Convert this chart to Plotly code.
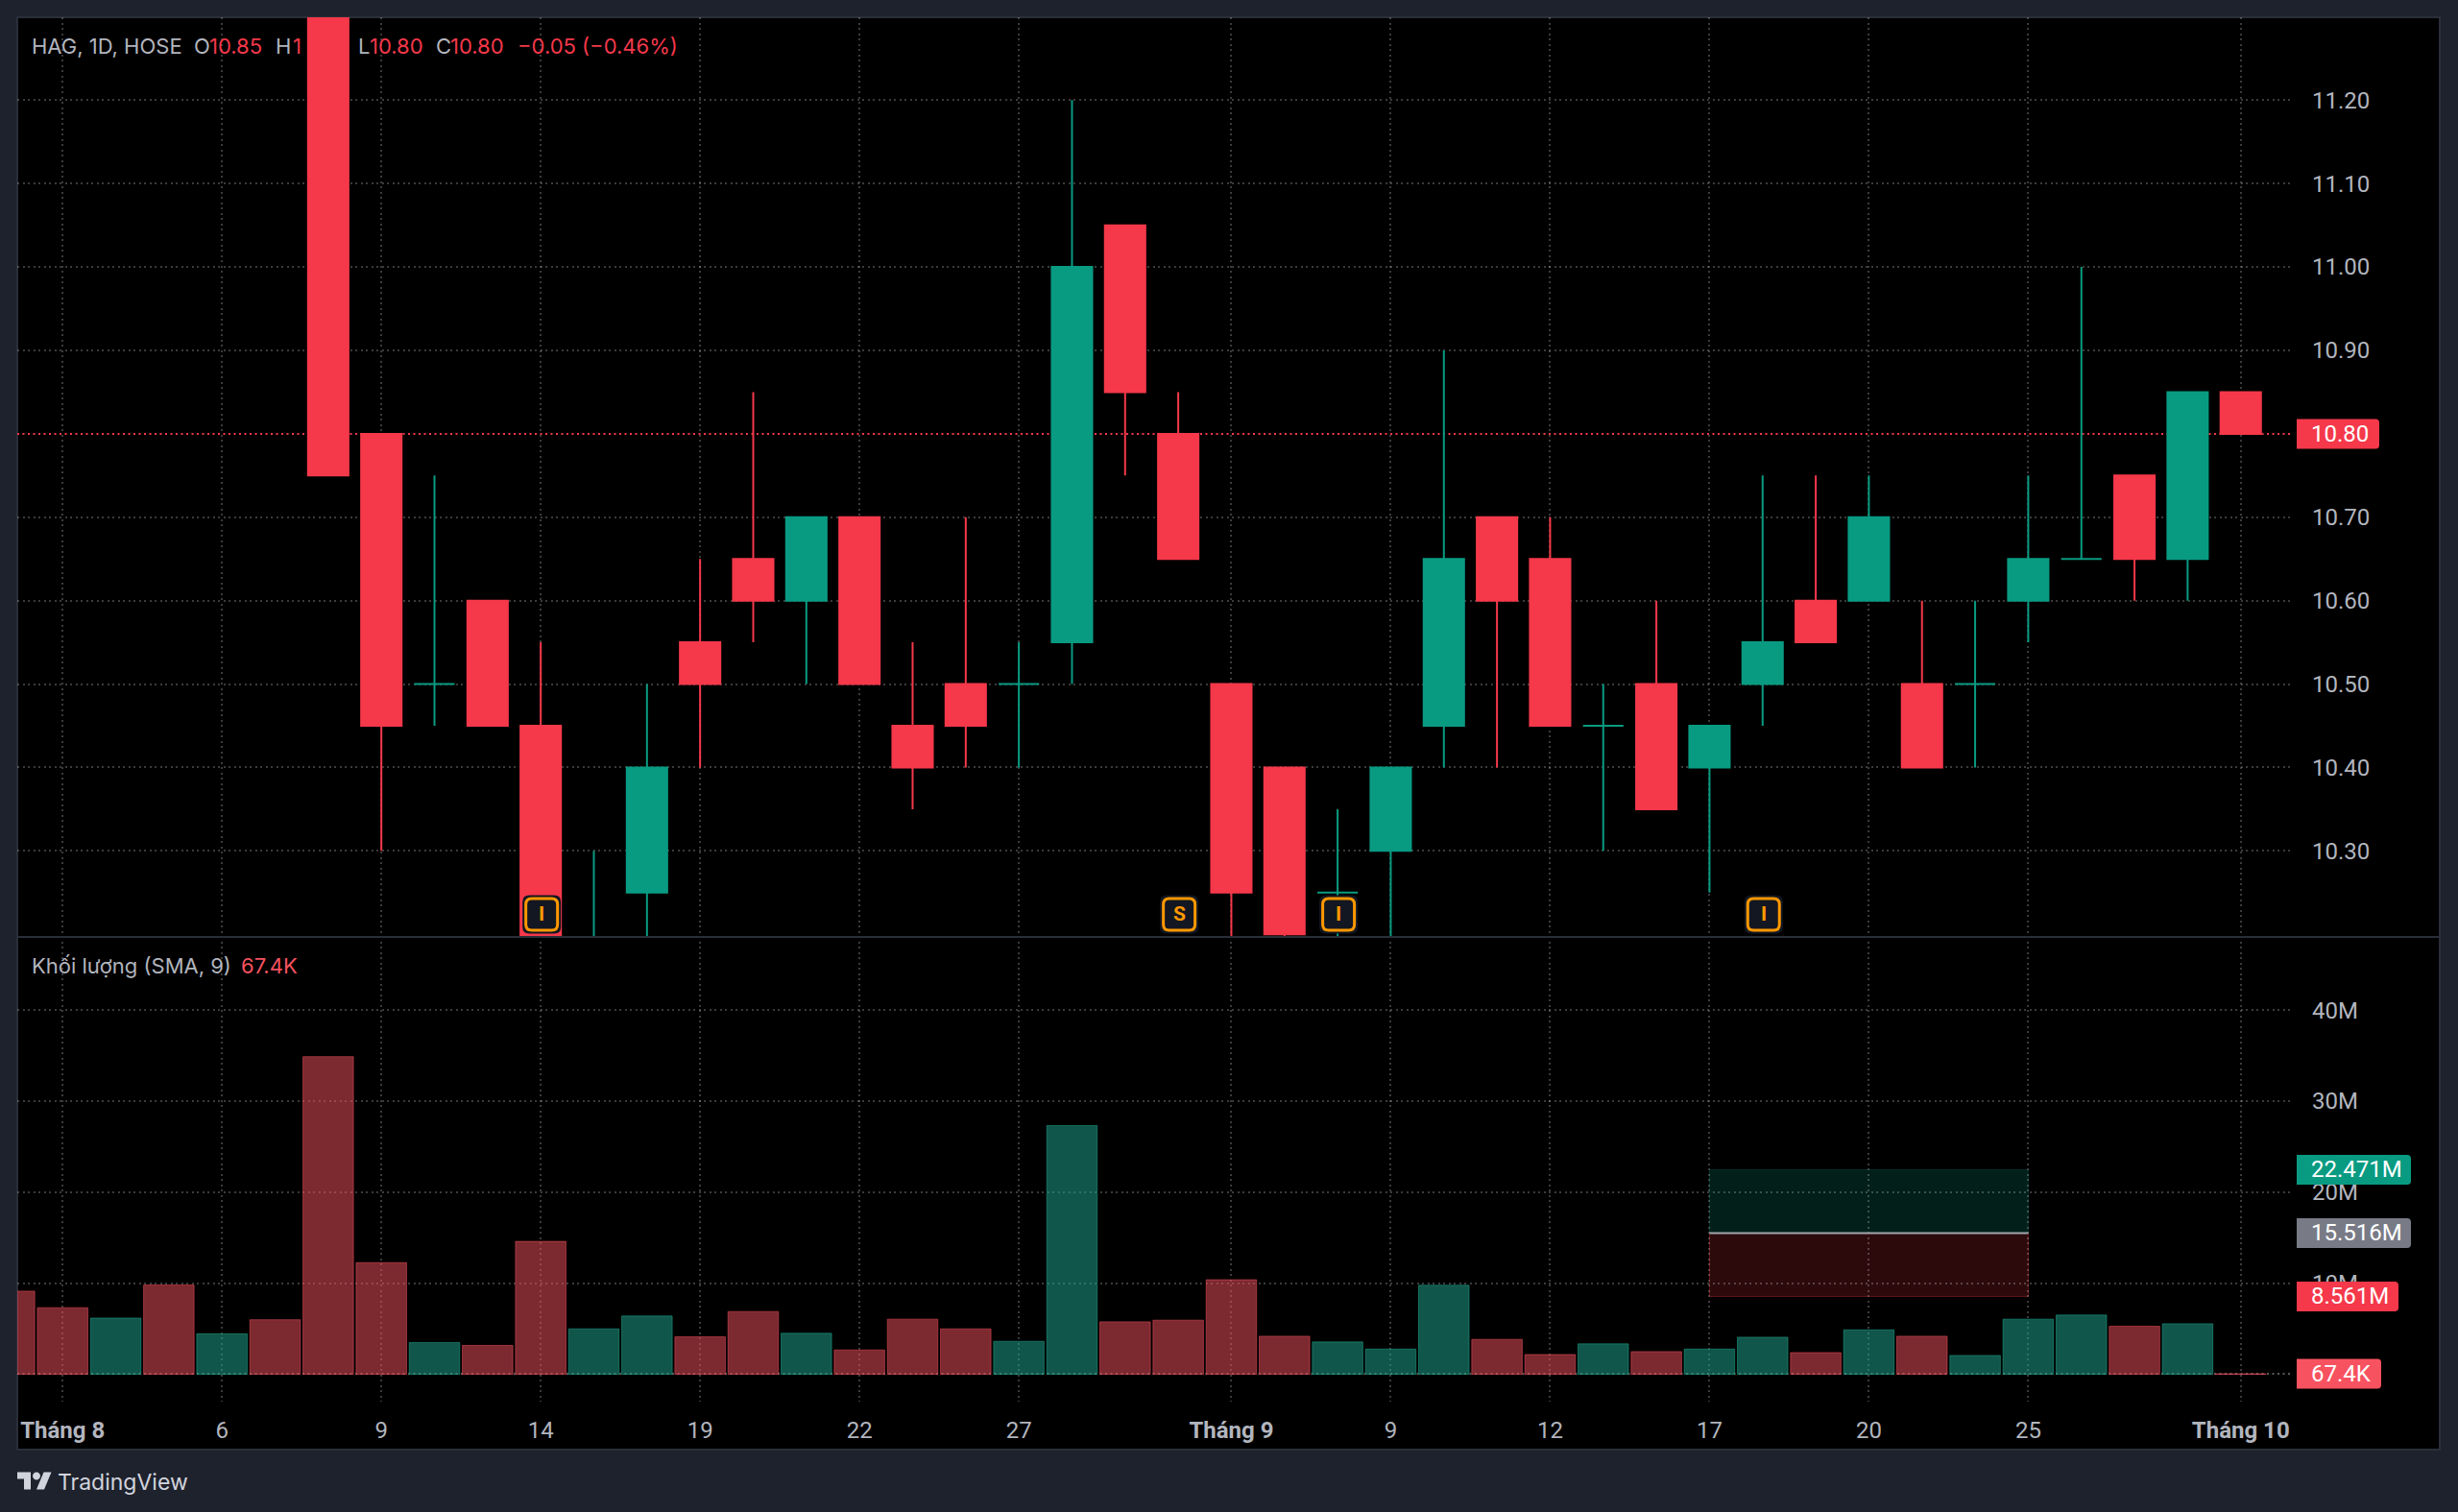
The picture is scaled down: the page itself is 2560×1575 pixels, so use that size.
import plotly.graph_objects as go

# ---- data ------------------------------------------------------------
candle_idx = list(range(5, 42))
opens  = [11.45,10.80,10.50,10.60,10.45,10.10,10.25,10.55,10.65,10.60,10.70,10.45,10.50,10.50,10.55,11.05,10.80,10.50,10.40,10.25,10.30,10.45,10.70,10.65,10.45,10.50,10.40,10.50,10.60,10.60,10.50,10.50,10.60,10.65,10.75,10.65,10.85]
highs  = [11.50,10.80,10.75,10.60,10.55,10.30,10.50,10.65,10.85,10.70,10.70,10.55,10.70,10.55,11.20,11.05,10.85,10.50,10.40,10.35,10.40,10.90,10.70,10.70,10.50,10.60,10.45,10.75,10.75,10.75,10.60,10.60,10.75,11.00,10.75,10.85,10.85]
lows   = [10.75,10.30,10.45,10.45,10.15,10.10,10.15,10.40,10.55,10.50,10.50,10.35,10.40,10.40,10.50,10.75,10.65,10.15,10.15,10.15,10.15,10.40,10.40,10.45,10.30,10.35,10.25,10.45,10.55,10.60,10.40,10.40,10.55,10.65,10.60,10.60,10.80]
closes = [10.75,10.45,10.50,10.45,10.15,10.15,10.40,10.50,10.60,10.70,10.50,10.40,10.45,10.50,11.00,10.85,10.65,10.25,10.20,10.25,10.40,10.65,10.60,10.45,10.45,10.35,10.45,10.55,10.55,10.70,10.40,10.50,10.65,10.65,10.65,10.85,10.80]

volume_idx = list(range(-1, 42))
volumes = [9.14,7.32,6.18,9.82,4.46,6.00,34.88,12.27,3.50,3.18,14.60,5.00,6.41,4.12,6.90,4.51,2.68,6.06,5.00,3.63,27.32,5.77,5.95,10.39,4.19,3.56,2.78,9.79,3.84,2.18,3.35,2.50,2.78,4.08,2.39,4.89,4.19,2.08,6.06,6.51,5.28,5.56,0.0674]
volume_up = [0,0,1,0,1,0,0,0,1,0,0,1,1,0,0,1,0,0,0,1,1,0,0,0,0,1,1,1,0,0,1,0,1,1,0,1,0,1,1,1,0,1,0]

time_tick_idx = [0,3,6,9,12,15,18,22,25,28,31,34,37,41]
time_tick_text = ["<b>Tháng 8</b>","6","9","14","19","22","27","<b>Tháng 9</b>","9","12","17","20","25","<b>Tháng 10</b>"]
price_ticks = [10.30,10.40,10.50,10.60,10.70,10.90,11.00,11.10,11.20]
volume_ticks = [10,20,30,40]

last_price = 10.80
last_volume = 0.0674
pos_start, pos_end = 31, 37
pos_target, pos_entry, pos_stop = 22.471, 15.516, 8.561
event_idx = [9, 21, 24, 32]
event_text = ["I", "S", "I", "I"]
event_price = 10.2240

# ---- style -----------------------------------------------------------
W, H = 2560, 1575
OUTER, FRAME = "#1e222d", "#2a2e39"
UP, DOWN = "#099b82", "#f5384a"
VOL_UP, VOL_DOWN = "rgba(34,171,148,0.5)", "rgba(247,82,95,0.5)"
TXT = "#b2b5be"
GRID = "rgba(255,255,255,0.23)"
ORANGE = "#ff9800"
FONT = "Roboto"
UIFONT = "Inter"

fx = lambda p: p / W
fy = lambda p: 1 - p / H

PANE_L, PANE_R, PANE_T, PANE_MID, PANE_B = 18, 2388, 18, 975, 1460
X0 = 65.2; PITCH = 55.33
xrange_ = [(PANE_L - X0) / PITCH, (PANE_R - X0) / PITCH]
yrange1 = [10.198, 11.2993]
yrange2 = [-2.99, 48.13]

fig = go.Figure()

def cd(sel):
    ii = [i for i in range(len(candle_idx)) if sel(opens[i], closes[i])]
    return dict(x=[candle_idx[i] for i in ii], open=[opens[i] for i in ii], high=[highs[i] for i in ii],
                low=[lows[i] for i in ii], close=[closes[i] for i in ii])

for sel, col in ((lambda o, c: c >= o, UP), (lambda o, c: c < o, DOWN)):
    fig.add_trace(go.Candlestick(**cd(sel), xaxis="x", yaxis="y", whiskerwidth=0, showlegend=False, hoverinfo="skip",
                                 increasing=dict(line=dict(color=col, width=2), fillcolor=col),
                                 decreasing=dict(line=dict(color=col, width=2), fillcolor=col)))

fig.add_trace(go.Bar(x=volume_idx, y=volumes, xaxis="x2", yaxis="y2", showlegend=False, hoverinfo="skip",
                     marker=dict(color=[VOL_UP if u else VOL_DOWN for u in volume_up],
                                 line=dict(width=1, color=[VOL_UP if u else VOL_DOWN for u in volume_up]))))

shapes = []
annots = []

# panel background
shapes.append(dict(type="rect", xref="paper", yref="paper", layer="below", x0=fx(18), x1=fx(2541), y0=fy(18), y1=fy(1510),
                   fillcolor="#000000", line=dict(color=FRAME, width=2)))
# separator
shapes.append(dict(type="line", xref="paper", yref="paper", layer="above", x0=fx(18), x1=fx(2541), y0=fy(976), y1=fy(976),
                   line=dict(color=FRAME, width=2)))
# last price lines
shapes.append(dict(type="line", xref="x", yref="y", layer="below", x0=xrange_[0], x1=xrange_[1], y0=last_price, y1=last_price,
                   line=dict(color=DOWN, width=2, dash="2px,3.5px")))
shapes.append(dict(type="line", xref="x2", yref="y2", layer="below", x0=xrange_[0], x1=xrange_[1], y0=last_volume, y1=last_volume,
                   line=dict(color="rgba(255,255,255,0.35)", width=2, dash="2px,3.5px")))
# position tool
shapes.append(dict(type="rect", xref="x2", yref="y2", layer="below", x0=pos_start, x1=pos_end, y0=pos_entry, y1=pos_target,
                   fillcolor="rgba(8,153,129,0.2)", line=dict(color="rgba(8,153,129,0.25)", width=1)))
shapes.append(dict(type="rect", xref="x2", yref="y2", layer="below", x0=pos_start, x1=pos_end, y0=pos_stop, y1=pos_entry,
                   fillcolor="rgba(242,54,69,0.18)", line=dict(color="rgba(242,54,69,0.35)", width=1)))
shapes.append(dict(type="line", xref="x2", yref="y2", layer="above", x0=pos_start, x1=pos_end, y0=pos_entry, y1=pos_entry,
                   line=dict(color="#a4a6ae", width=2)))

# value labels on scale
def label(value, yref, text, width, color):
    h = 15.5; r = 4
    path = f"M0,{-h} L{width-r},{-h} Q{width},{-h} {width},{-h+r} L{width},{h-r} Q{width},{h} {width-r},{h} L0,{h} Z"
    shapes.append(dict(type="path", layer="above", xref="paper", yref=yref, xsizemode="pixel", ysizemode="pixel",
                       xanchor=fx(2392), yanchor=value, path=path, fillcolor=color, line=dict(width=0)))
    annots.append(dict(xref="paper", yref=yref, x=fx(2405), y=value, xanchor="left", yanchor="middle", showarrow=False,
                       text=text, font=dict(family=FONT, size=24, color="#ffffff")))

label(last_price, "y", "10.80", 86, DOWN)
label(pos_target, "y2", "22.471M", 119, UP)
label(pos_entry, "y2", "15.516M", 119, "#787b86")
label(pos_stop, "y2", "8.561M", 106, DOWN)
label(last_volume, "y2", "67.4K", 88, "#f7525f")

# event badges
def rrect(cx, a, r):
    l, t = cx - a, cx + a
    return (f"M{l+r},{-a} L{t-r},{-a} Q{t},{-a} {t},{-a+r} L{t},{a-r} Q{t},{a} {t-r},{a} "
            f"L{l+r},{a} Q{l},{a} {l},{a-r} L{l},{-a+r} Q{l},{-a} {l+r},{-a} Z")

for i, t in zip(event_idx, event_text):
    shapes.append(dict(type="path", layer="above", xref="x", yref="y", xsizemode="pixel", ysizemode="pixel",
                       xanchor=i, yanchor=event_price, path=rrect(1, 20, 7), fillcolor="#131722", line=dict(width=0)))
    shapes.append(dict(type="path", layer="above", xref="x", yref="y", xsizemode="pixel", ysizemode="pixel",
                       xanchor=i, yanchor=event_price, path=rrect(1, 16.5, 6), fillcolor="#131722",
                       line=dict(color=ORANGE, width=3)))
    annots.append(dict(xref="x", yref="y", x=i, y=event_price, xshift=1, showarrow=False, text=f"<b>{t}</b>",
                       font=dict(family=FONT, size=21, color=ORANGE)))

# header text
def txt(x, y, text, color, size=22, family=UIFONT):
    annots.append(dict(xref="paper", yref="paper", x=fx(x - 3), y=fy(y), xanchor="left", yanchor="middle", showarrow=False,
                       text=text, font=dict(family=family, size=size, color=color)))

for x, t, c in [(33.5, "HAG, 1D, HOSE", TXT), (203, "O", TXT), (219, "10.85", DOWN), (288, "H", TXT), (306, "1", DOWN),
                (374, "L", TXT), (386, "10.80", DOWN), (455, "C", TXT), (470, "10.80", DOWN),
                (540, "−0.05 (−0.46%)", DOWN)]:
    txt(x, 47.5, t, c)
txt(33.5, 1006, "Khối lượng (SMA, 9)", TXT)
txt(252, 1006, "67.4K", "#f7525f")
txt(60.5, 1544, "TradingView", "#d1d4dc", size=23)

# logo
logo_path = ("M14,-25 L7,-25 L7,-14 L0,-14 L0,-7 L14,-7 Z M28,-25 L20,-25 L27.5,-7 L35.5,-7 Z "
             "M24,-11 C24,-8.8 22.2,-7 20,-7 C17.8,-7 16,-8.8 16,-11 C16,-13.2 17.8,-15 20,-15 C22.2,-15 24,-13.2 24,-11 Z")
shapes.append(dict(type="path", layer="above", xref="paper", yref="paper", xsizemode="pixel", ysizemode="pixel",
                   xanchor=fx(18), yanchor=fy(1526.5), path=logo_path, fillcolor="#d1d4dc", line=dict(width=0)))

grid = dict(showgrid=True, gridcolor=GRID, griddash="2px,3.5px", gridwidth=2, zeroline=False, showline=False, ticks="")
tick_font = dict(family=FONT, size=24, color=TXT)

fig.update_layout(
    width=W, height=H, margin=dict(l=0, r=0, t=0, b=0), autosize=False,
    paper_bgcolor=OUTER, plot_bgcolor="rgba(0,0,0,0)",
    showlegend=False, hovermode=False, boxgap=0.24, boxgroupgap=0, bargap=0.05,
    shapes=shapes, annotations=annots,
    xaxis=dict(domain=[fx(PANE_L), fx(PANE_R)], range=xrange_, anchor="y", tickmode="array", tickvals=time_tick_idx,
               showticklabels=False, rangeslider=dict(visible=False), **grid),
    xaxis2=dict(domain=[fx(PANE_L), fx(PANE_R)], range=xrange_, anchor="y2", tickmode="array", tickvals=time_tick_idx,
                ticktext=time_tick_text, tickfont=dict(family=FONT, size=24, color=TXT), tickangle=0,
                ticklabelstandoff=13, **grid),
    yaxis=dict(domain=[fy(PANE_MID), fy(PANE_T)], range=yrange1, anchor="x", side="right", tickmode="array",
               tickvals=price_ticks, ticktext=[f"{v:.2f}" for v in price_ticks], tickfont=tick_font,
               ticklabelstandoff=19, **grid),
    yaxis2=dict(domain=[fy(PANE_B), fy(PANE_MID)], range=yrange2, anchor="x2", side="right", tickmode="array",
                tickvals=volume_ticks, ticktext=[f"{v}M" for v in volume_ticks], tickfont=tick_font,
                ticklabelstandoff=19, **grid),
)

fig.write_html("out.html", config=dict(displayModeBar=False),
               post_script="document.body.style.margin='0';document.body.style.background='#1e222d';")
